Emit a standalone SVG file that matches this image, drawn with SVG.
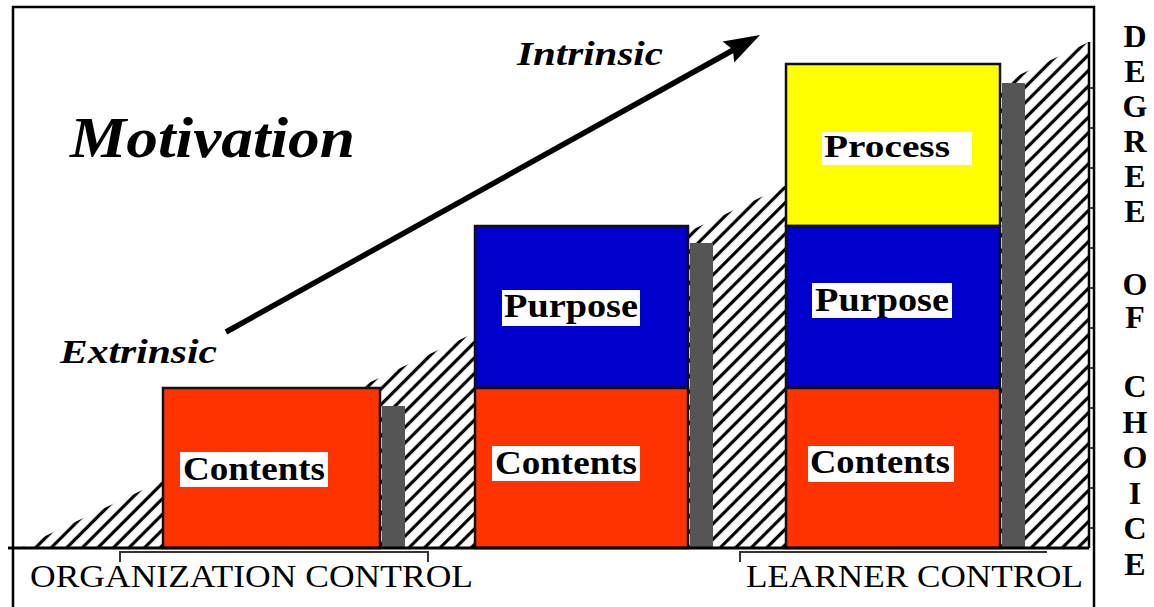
<svg xmlns="http://www.w3.org/2000/svg" width="1154" height="607" viewBox="0 0 1154 607">
<defs>
<pattern id="hatch" width="20" height="11" patternUnits="userSpaceOnUse" patternTransform="rotate(-45)">
<line x1="0" y1="5.5" x2="20" y2="5.5" stroke="#000" stroke-width="3.2"/>
</pattern>
<style>
.box{stroke:#111;stroke-width:2.5}
.red{fill:#ff3300}
.blue{fill:#0000cc}
.yellow{fill:#ffff00}
.shadow{fill:#555555}
.lbl{font-family:"Liberation Serif","Times New Roman",serif;font-weight:bold;font-size:34px;fill:#000}
.bi{font-family:"Liberation Serif","Times New Roman",serif;font-weight:bold;font-style:italic;fill:#000}
.axis{font-family:"Liberation Serif","Times New Roman",serif;font-size:31px;fill:#000}
.vert{font-family:"Liberation Serif","Times New Roman",serif;font-weight:bold;font-size:32px;fill:#000;text-anchor:middle}
.frame{stroke:#000;stroke-width:2.5;fill:none}
</style>
</defs>
<rect x="0" y="0" width="1154" height="607" fill="#fff"/>
<g id="frame">
<polyline class="frame" points="13,607 13,7 1094,7 1094,607"/>
</g>
<g id="hatch-wedge">
<polygon points="20,548 1089,42 1089,548" fill="url(#hatch)"/>
<line x1="1089" y1="42" x2="1089" y2="548" stroke="#000" stroke-width="2.5"/>
<g stroke="#000" stroke-width="1.5">
<line x1="1089" y1="88" x2="1094" y2="88"/>
<line x1="1089" y1="128" x2="1094" y2="128"/>
<line x1="1089" y1="168" x2="1094" y2="168"/>
<line x1="1089" y1="208" x2="1094" y2="208"/>
<line x1="1089" y1="248" x2="1094" y2="248"/>
<line x1="1089" y1="288" x2="1094" y2="288"/>
<line x1="1089" y1="328" x2="1094" y2="328"/>
<line x1="1089" y1="368" x2="1094" y2="368"/>
<line x1="1089" y1="408" x2="1094" y2="408"/>
<line x1="1089" y1="448" x2="1094" y2="448"/>
<line x1="1089" y1="488" x2="1094" y2="488"/>
<line x1="1089" y1="528" x2="1094" y2="528"/>
</g>
</g>
<g id="stack1">
<rect class="shadow" x="382" y="406" width="23" height="142"/>
<rect id="contents1" class="box red" x="163" y="388" width="217" height="160"/>
<rect x="180" y="452" width="148" height="35" fill="#fff"/>
<text class="lbl" x="183" y="480" textLength="142" lengthAdjust="spacingAndGlyphs">Contents</text>
</g>
<g id="stack2">
<rect class="shadow" x="690" y="243" width="23" height="305"/>
<rect id="purpose2" class="box blue" x="475" y="226" width="213" height="162"/>
<rect id="contents2" class="box red" x="475" y="388" width="213" height="160"/>
<rect x="502" y="290" width="138" height="36" fill="#fff"/>
<text class="lbl" x="504" y="317" textLength="134" lengthAdjust="spacingAndGlyphs">Purpose</text>
<rect x="492" y="446" width="148" height="35" fill="#fff"/>
<text class="lbl" x="495" y="474" textLength="142" lengthAdjust="spacingAndGlyphs">Contents</text>
</g>
<g id="stack3">
<rect class="shadow" x="1002" y="83" width="23" height="465"/>
<rect id="process3" class="box yellow" x="786" y="64" width="214" height="162"/>
<rect id="purpose3" class="box blue" x="786" y="226" width="214" height="162"/>
<rect id="contents3" class="box red" x="786" y="388" width="214" height="160"/>
<rect x="822" y="132" width="150" height="33" fill="#fff"/>
<text class="lbl" x="824" y="157" style="font-size:31px" textLength="126" lengthAdjust="spacingAndGlyphs">Process</text>
<rect x="812" y="283" width="140" height="35" fill="#fff"/>
<text class="lbl" x="815" y="311" textLength="134" lengthAdjust="spacingAndGlyphs">Purpose</text>
<rect x="808" y="446" width="146" height="36" fill="#fff"/>
<text class="lbl" x="810" y="473" textLength="140" lengthAdjust="spacingAndGlyphs">Contents</text>
</g>
<g id="axis">
<line x1="8" y1="548" x2="1089" y2="548" stroke="#000" stroke-width="3"/>
<g stroke="#333" stroke-width="2" fill="none">
<polyline points="120,562 120,552 428,552 428,562"/>
<polyline points="740,562 740,552 1047,552"/>
</g>
<text class="axis" x="30" y="587" textLength="443" lengthAdjust="spacingAndGlyphs">ORGANIZATION CONTROL</text>
<text class="axis" x="746" y="587" textLength="337" lengthAdjust="spacingAndGlyphs">LEARNER CONTROL</text>
</g>
<g id="motivation-title">
<text class="bi" x="70" y="157" style="font-size:56px" textLength="285" lengthAdjust="spacingAndGlyphs">Motivation</text>
</g>
<g id="label-intrinsic">
<text class="bi" x="517" y="65" style="font-size:33px" textLength="146" lengthAdjust="spacingAndGlyphs">Intrinsic</text>
</g>
<g id="label-extrinsic">
<text class="bi" x="60" y="363" style="font-size:34px" textLength="157" lengthAdjust="spacingAndGlyphs">Extrinsic</text>
</g>
<g id="connectors">
<line x1="226" y1="332" x2="735" y2="49" stroke="#000" stroke-width="5.5"/>
<polygon points="760,35 722.6,41.5 732.8,49.6 734.2,62.5" fill="#000"/>
</g>
<g id="degree-of-choice">
<text class="vert" x="1135" y="47">D</text>
<text class="vert" x="1135" y="82">E</text>
<text class="vert" x="1135" y="117">G</text>
<text class="vert" x="1135" y="152">R</text>
<text class="vert" x="1135" y="187">E</text>
<text class="vert" x="1135" y="222">E</text>
<text class="vert" x="1135" y="295">O</text>
<text class="vert" x="1135" y="328">F</text>
<text class="vert" x="1135" y="397">C</text>
<text class="vert" x="1135" y="433">H</text>
<text class="vert" x="1135" y="468">O</text>
<text class="vert" x="1135" y="504">I</text>
<text class="vert" x="1135" y="539">C</text>
<text class="vert" x="1135" y="575">E</text>
</g>
</svg>
